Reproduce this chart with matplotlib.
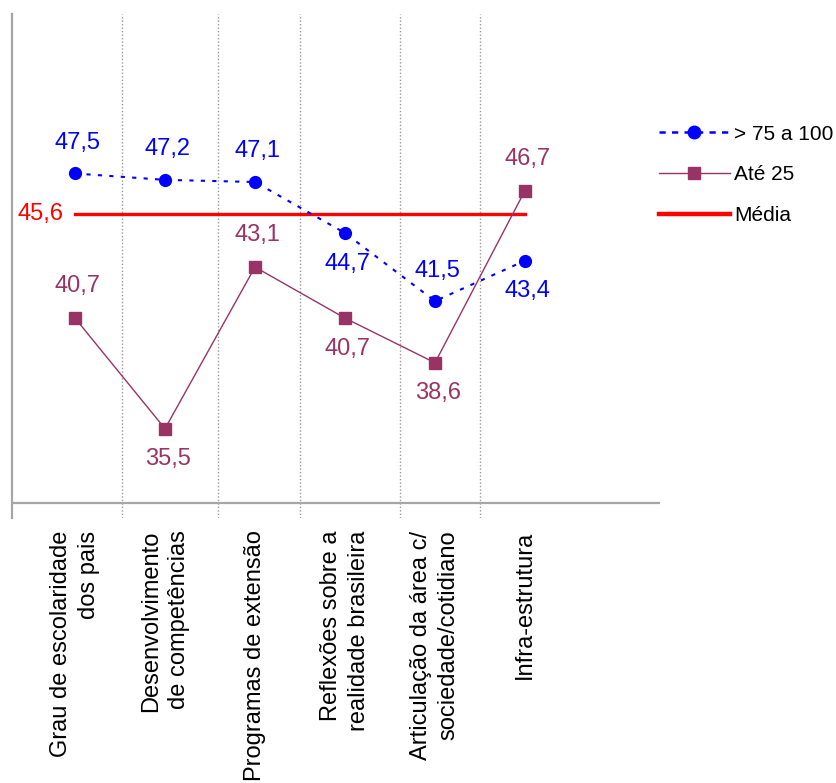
import matplotlib
matplotlib.use("Agg")
import matplotlib.pyplot as plt
from matplotlib.lines import Line2D

plt.rcParams['font.family'] = ['Liberation Sans', 'DejaVu Sans']

categories = [
    "Grau de escolaridade\ndos pais",
    "Desenvolvimento\nde competências",
    "Programas de extensão",
    "Reflexões sobre a\nrealidade brasileira",
    "Articulação da área c/\nsociedade/cotidiano",
    "Infra-estrutura",
]
serie_75_100 = [47.5, 47.2, 47.1, 44.7, 41.5, 43.4]
serie_ate25 = [40.7, 35.5, 43.1, 40.7, 38.6, 46.7]
media = 45.6
labels_75 = ["47,5", "47,2", "47,1", "44,7", "41,5", "43,4"]
labels_25 = ["40,7", "35,5", "43,1", "40,7", "38,6", "46,7"]
label_media = "45,6"
legend_labels = ["> 75 a 100", "Até 25", "Média"]

pos_75 = ["above", "above", "above", "below", "above", "below"]
pos_25 = ["above", "below", "above", "below", "below", "above"]

BLUE = "#0000ff"
PURPLE = "#993366"
RED = "#ff0000"
GRAY = "#a6a6a6"

fig = plt.figure(figsize=(8.37, 7.83), dpi=100)
ax = fig.add_axes([12/837, 1-518/783, (660-12)/837, (518-14)/783])

x = list(range(len(categories)))
ax.set_xlim(-0.7, 6.5)
ax.set_ylim(31.3, 55.0)

# gridlines (category separators)
for gx in [0.522, 1.589, 2.5, 3.611, 4.5]:
    ax.axvline(gx, color="#999999", lw=1.0, ls=(0, (1, 1.5)), zorder=0)

# x axis baseline
ax.axhline(32.0, color=GRAY, lw=1.6, zorder=1)

ax.plot(x, [media]*len(x), color=RED, lw=2.4, zorder=2)
ax.plot(x, serie_ate25, color=PURPLE, lw=1.0, marker="s", ms=8,
        mec=PURPLE, mfc=PURPLE, zorder=3)
ax.plot(x, serie_75_100, color=BLUE, lw=1.5, ls=(0, (2, 3.5)), marker="o",
        ms=8.5, mec=BLUE, mfc=BLUE, zorder=4)

for xi, v, lab, p in zip(x, serie_75_100, labels_75, pos_75):
    off = 22 if p == "above" else -22
    ax.annotate(lab, (xi, v), xytext=(2, off), textcoords="offset points",
                ha="center", va="center", color=BLUE, fontsize=17)
for xi, v, lab, p in zip(x, serie_ate25, labels_25, pos_25):
    off = 23 if p == "above" else -22
    ax.annotate(lab, (xi, v), xytext=(2, off), textcoords="offset points",
                ha="center", va="center", color=PURPLE, fontsize=17)
ax.annotate(label_media, (0, media), xytext=(-8, 0), textcoords="offset points",
            ha="right", va="center", color=RED, fontsize=17)

for s in ["top", "right", "bottom"]:
    ax.spines[s].set_visible(False)
ax.spines["left"].set_color(GRAY)
ax.spines["left"].set_linewidth(1.6)
ax.set_yticks([])
ax.set_xticks(x)
ax.set_xticklabels(categories, rotation=90, ha="center", va="top",
                   multialignment="right", fontsize=17, linespacing=1.3)
ax.tick_params(axis="x", length=0, pad=9)

handles = [
    Line2D([], [], color=BLUE, lw=1.8, ls=(0, (2.5, 2.5)), marker="o", ms=9,
           mfc=BLUE, mec=BLUE),
    Line2D([], [], color=PURPLE, lw=1.0, marker="s", ms=8, mfc=PURPLE, mec=PURPLE),
    Line2D([], [], color=RED, lw=3.2),
]
fig.legend(handles, legend_labels, loc="center left",
           bbox_to_anchor=(659/837, 1-175/783), frameon=False, fontsize=15,
           handlelength=3.4, handletextpad=0.22, labelspacing=1.05,
           borderpad=0, borderaxespad=0)

fig.savefig("out.png", dpi=100)
